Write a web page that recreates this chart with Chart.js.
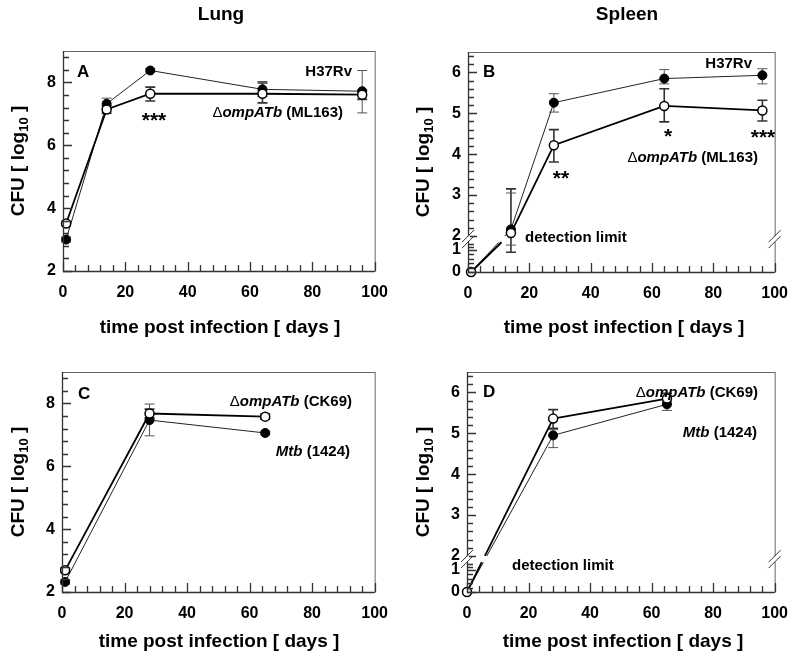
<!DOCTYPE html>
<html>
<head>
<meta charset="utf-8">
<script src="https://cdn.jsdelivr.net/npm/chart.js@4.4.1/dist/chart.umd.min.js"></script>
<style>
  html, body { margin: 0; padding: 0; background: #fff; }
  canvas { position: absolute; }
</style>
</head>
<body>
<canvas id="chartA" width="400" height="345" style="left:0;top:0"></canvas>
<canvas id="chartB" width="400" height="345" style="left:400px;top:0"></canvas>
<canvas id="chartC" width="400" height="331" style="left:0;top:330px"></canvas>
<canvas id="chartD" width="400" height="331" style="left:400px;top:330px"></canvas>
<script>
/* values (CFU, log10) */
let daysLung = [1, 14, 28, 64, 96]
let lungH37Rv = [3.0, 7.32, 8.38, 7.78, 7.72]
let lungH37RvLo = [2.92, 7.15, 8.33, 7.55, 7.03]
let lungH37RvHi = [3.08, 7.5, 8.43, 8.03, 8.38]
let lungML163 = [3.51, 7.14, 7.64, 7.64, 7.61]
let lungML163Lo = [3.45, 7.02, 7.41, 7.35, 7.46]
let lungML163Hi = [3.57, 7.26, 7.85, 7.98, 7.76]

let daysSpleen = [1, 14, 28, 64, 96]
let spleenH37Rv = [0, 2.16, 5.26, 5.85, 5.93]
let spleenH37RvLo = [0, 1.35, 5.03, 5.72, 5.72]
let spleenH37RvHi = [0, 3.05, 5.48, 6.07, 6.09]
let spleenML163 = [0, 2.07, 4.22, 5.18, 5.07]
let spleenML163Lo = [0, 0.9, 3.81, 4.79, 4.81]
let spleenML163Hi = [0, 3.15, 4.6, 5.6, 5.32]

let daysCK69Lung = [1, 28, 65]
let lungMtb1424 = [2.32, 7.47, 7.06]
let lungMtb1424Lo = [2.25, 6.97, 7.0]
let lungMtb1424Hi = [2.39, 7.98, 7.12]
let lungCK69 = [2.69, 7.68, 7.58]
let lungCK69Lo = [2.62, 7.54, 7.5]
let lungCK69Hi = [2.76, 7.82, 7.66]

let daysCK69Spleen = [0, 28, 65]
let spleenMtb1424 = [0, 4.95, 5.71]
let spleenMtb1424Lo = [0, 4.65, 5.56]
let spleenMtb1424Hi = [0, 5.09, 5.78]
let spleenCK69 = [0, 5.36, 5.85]
let spleenCK69Lo = [0, 5.12, 5.72]
let spleenCK69Hi = [0, 5.58, 5.98]

/* tick labels */
let xTickLabels = [0, 20, 40, 60, 80, 100]
let yTickLabelsLung = [2, 4, 6, 8]
let yTickLabelsSpleen = [0, 1, 2, 3, 4, 5, 6]

const FONT = '"Liberation Sans", Arial, Helvetica, sans-serif'

/* spleen axis is broken between 1 and 2 */
let breakKnots = [[0, 0], [1, 0.1], [2, 0.164], [6.5, 1]]
let breakBand = [1.55, 2.0]

function toDecimal(v) {
    for (let i = 1; i < breakKnots.length; i++) {
        let a = breakKnots[i - 1], b = breakKnots[i]
        if (v <= b[0] || i === breakKnots.length - 1) {
            return a[1] + (v - a[0]) / (b[0] - a[0]) * (b[1] - a[1])
        }
    }
}
function fromDecimal(d) {
    for (let i = 1; i < breakKnots.length; i++) {
        let a = breakKnots[i - 1], b = breakKnots[i]
        if (d <= b[1] || i === breakKnots.length - 1) {
            return a[0] + (d - a[1]) / (b[1] - a[1]) * (b[0] - a[0])
        }
    }
}

class BrokenScale extends Chart.LinearScale {
    getPixelForValue(value) {
        if (value === null || value === undefined || isNaN(value)) return NaN
        return this.getPixelForDecimal(toDecimal(value))
    }
    getValueForPixel(pixel) {
        return fromDecimal(this.getDecimalForPixel(pixel))
    }
}
BrokenScale.id = 'broken'
BrokenScale.defaults = Chart.LinearScale.defaults
Chart.register(BrokenScale)

// cut the line where it crosses the axis break
function breakDash(c) {
    let ys = c.chart.scales.y
    if (!ys || ys.type !== 'broken') return undefined
    let a = c.p0, b = c.p1
    let yLow = ys.getPixelForValue(breakBand[0]), yHigh = ys.getPixelForValue(breakBand[1])
    if (!(a.y > yLow && b.y < yHigh)) return undefined
    let len = Math.hypot(b.x - a.x, b.y - a.y)
    let t1 = (a.y - yLow) / (a.y - b.y), t2 = (a.y - yHigh) / (a.y - b.y)
    return [t1 * len, (t2 - t1) * len, len * 2]
}

function series(days, vals, lo, hi, filled) {
    return {
        data: days.map((d, i) => ({ x: d, y: vals[i] })),
        errLo: lo,
        errHi: hi,
        errColor: filled ? '#555' : '#333',
        errWidth: filled ? 1 : 1.6,
        borderColor: filled ? '#222' : '#000',
        borderWidth: filled ? 1 : 1.8,
        pointRadius: 4.5,
        pointHoverRadius: 4.5,
        pointBackgroundColor: filled ? '#000' : '#fff',
        pointBorderColor: '#000',
        pointBorderWidth: filled ? 1 : 1.5,
        tension: 0,
        clip: false,
        segment: { borderDash: breakDash }
    }
}

function txt(runs, x, y, align, size) {
    return { runs: runs, x: x, y: y, align: align || 'left', size: size || 15 }
}
const XTITLE = 'time post infection [ days ]'

/* panel layout (local canvas pixels) */
let panels = {
    chartA: {
        box: { left: 63, right: 377, top: 51, bottom: 271 },
        broken: false,
        xTitle: [220, 328], yTitle: [17, 161],
        texts: [
            txt([['Lung']], 221, 15, 'center', 19),
            txt([['A']], 77, 72, 'left', 17),
            txt([['H37Rv']], 352, 72, 'right'),
            txt([['\u0394', 'n'], ['ompATb', 'i'], [' (ML163)']], 343, 113, 'right'),
            txt([['***']], 154, 121, 'center', 21)
        ]
    },
    chartB: {
        box: { left: 68, right: 380, top: 52, bottom: 272 },
        broken: true,
        xTitle: [224, 328], yTitle: [22, 162],
        texts: [
            txt([['Spleen']], 227, 15, 'center', 19),
            txt([['B']], 83, 72, 'left', 17),
            txt([['H37Rv']], 352, 64, 'right'),
            txt([['\u0394', 'n'], ['ompATb', 'i'], [' (ML163)']], 358, 158, 'right'),
            txt([['*']], 268, 137, 'center', 21),
            txt([['***']], 363, 138, 'center', 21),
            txt([['**']], 161, 179, 'center', 21),
            txt([['detection limit']], 125, 238, 'left')
        ]
    },
    chartC: {
        box: { left: 62, right: 376, top: 42, bottom: 262 },
        broken: false,
        xTitle: [219, 312], yTitle: [17, 152],
        texts: [
            txt([['C']], 78, 64, 'left', 17),
            txt([['\u0394', 'n'], ['ompATb', 'i'], [' (CK69)']], 352, 72, 'right'),
            txt([['Mtb', 'i'], [' (1424)']], 350, 122, 'right')
        ]
    },
    chartD: {
        box: { left: 67, right: 379, top: 42, bottom: 262 },
        broken: true,
        xTitle: [223, 312], yTitle: [22, 152],
        texts: [
            txt([['D']], 83, 62, 'left', 17),
            txt([['\u0394', 'n'], ['ompATb', 'i'], [' (CK69)']], 358, 63, 'right'),
            txt([['Mtb', 'i'], [' (1424)']], 357, 103, 'right'),
            txt([['detection limit']], 112, 236, 'left')
        ]
    }
}

function runFont(style, size) {
    if (style === 'n') return size + 'px ' + FONT
    if (style === 'i') return 'italic bold ' + size + 'px ' + FONT
    return 'bold ' + size + 'px ' + FONT
}

function drawRuns(ctx, t) {
    let total = 0
    t.runs.forEach(r => { ctx.font = runFont(r[1], t.size); total += ctx.measureText(r[0]).width })
    let x = t.align === 'left' ? t.x : t.align === 'right' ? t.x - total : t.x - total / 2
    ctx.textBaseline = 'middle'
    ctx.textAlign = 'left'
    t.runs.forEach(r => {
        ctx.font = runFont(r[1], t.size)
        ctx.fillText(r[0], x, t.y)
        x += ctx.measureText(r[0]).width
    })
}

function minorTicks(from, to, step, majorEvery) {
    let out = []
    let n = Math.round((to - from) / step)
    for (let k = 0; k <= n; k++) out.push({ v: from + k * step, major: k % majorEvery === 0 })
    return out
}

let decor = {
    id: 'decor',
    beforeDatasetsDraw(chart) {
        // error bars go under the markers
        let ctx = chart.ctx, xs = chart.scales.x, ys = chart.scales.y
        chart.data.datasets.forEach(ds => {
            ctx.save()
            ctx.strokeStyle = ds.errColor
            ctx.lineWidth = ds.errWidth
            ds.data.forEach((pt, j) => {
                let lo = ds.errLo[j], hi = ds.errHi[j]
                if (hi - lo < 0.02) return
                let x = xs.getPixelForValue(pt.x)
                let y1 = ys.getPixelForValue(lo), y2 = ys.getPixelForValue(hi)
                ctx.beginPath()
                ctx.moveTo(x, y1); ctx.lineTo(x, y2)
                ctx.moveTo(x - 5, y1); ctx.lineTo(x + 5, y1)
                ctx.moveTo(x - 5, y2); ctx.lineTo(x + 5, y2)
                ctx.stroke()
            })
            ctx.restore()
        })
    },
    afterDraw(chart) {
        let p = panels[chart.canvas.id]
        let ctx = chart.ctx, a = chart.chartArea, xs = chart.scales.x, ys = chart.scales.y
        ctx.save()

        // frame
        ctx.strokeStyle = '#666'
        ctx.lineWidth = 1
        ctx.strokeRect(a.left + 0.5, a.top + 0.5, a.right - a.left, a.bottom - a.top)
        ctx.strokeStyle = '#333'
        ctx.lineWidth = 1.3
        ctx.beginPath()
        ctx.moveTo(a.left + 0.5, a.top); ctx.lineTo(a.left + 0.5, a.bottom + 0.5); ctx.lineTo(a.right, a.bottom + 0.5)
        ctx.stroke()

        // inward ticks
        ctx.beginPath()
        minorTicks(0, 100, 4, 5).forEach(t => {
            let x = Math.round(xs.getPixelForValue(t.v)) + 0.5
            ctx.moveTo(x, a.bottom); ctx.lineTo(x, a.bottom - (t.major ? 9 : 6))
        })
        let yt = p.broken
            ? minorTicks(0, 1.4, 0.2, 5).concat(minorTicks(2, 6.4, 0.2, 5))
            : minorTicks(2, 8.8, 0.4, 5)
        yt.forEach(t => {
            let y = Math.round(ys.getPixelForValue(t.v)) + 0.5
            ctx.moveTo(a.left, y); ctx.lineTo(a.left + (t.major ? 9 : 6), y)
        })
        ctx.stroke()

        // axis break marks
        if (p.broken) {
            let yb = ys.getPixelForValue((breakBand[0] + breakBand[1]) / 2)
            ;[a.left, a.right].forEach(x => {
                ctx.fillStyle = '#fff'
                ctx.fillRect(x - 2, yb - 3, 4, 6)
                ctx.strokeStyle = '#333'
                ctx.lineWidth = 1
                ctx.beginPath()
                ;[-3, 3].forEach(o => {
                    ctx.moveTo(x - 6, yb + o + 6); ctx.lineTo(x + 6, yb + o - 6)
                })
                ctx.stroke()
            })
        }

        // texts
        ctx.fillStyle = '#000'
        p.texts.forEach(t => drawRuns(ctx, t))
        drawRuns(ctx, txt([[XTITLE]], p.xTitle[0], p.xTitle[1], 'center', 19))

        // y title with subscript
        ctx.translate(p.yTitle[0], p.yTitle[1])
        ctx.rotate(-Math.PI / 2)
        let big = 'bold 19px ' + FONT, small = 'bold 13px ' + FONT
        ctx.font = big
        let w1 = ctx.measureText('CFU [ log').width, w3 = ctx.measureText(' ]').width
        ctx.font = small
        let w2 = ctx.measureText('10').width
        let x0 = -(w1 + w2 + w3) / 2
        ctx.textBaseline = 'alphabetic'
        ctx.textAlign = 'left'
        ctx.font = big
        ctx.fillText('CFU [ log', x0, 7)
        ctx.font = small
        ctx.fillText('10', x0 + w1, 11)
        ctx.font = big
        ctx.fillText(' ]', x0 + w1 + w2, 7)
        ctx.restore()
    }
}

function makeChart(id, openSet, filledSet, yType, yMin, yMax, yLabels) {
    let p = panels[id]
    let canvas = document.getElementById(id)
    let W = canvas.width, H = canvas.height
    let tickFont = { family: FONT, size: 16, weight: 'bold' }
    return new Chart(canvas.getContext('2d'), {
        type: 'line',
        data: { datasets: [openSet, filledSet] },
        options: {
            responsive: false,
            animation: false,
            events: [],
            layout: { padding: { left: 0, top: p.box.top, right: W - p.box.right, bottom: 0 } },
            plugins: { legend: { display: false }, tooltip: { enabled: false } },
            scales: {
                x: {
                    type: 'linear', min: 0, max: 100,
                    grid: { display: false, drawTicks: false },
                    border: { display: false },
                    ticks: { font: tickFont, color: '#000', padding: 12, autoSkip: false, maxRotation: 0, callback: v => String(v) },
                    afterBuildTicks: s => { s.ticks = xTickLabels.map(v => ({ value: v })) },
                    afterFit: s => { s.height = H - p.box.bottom }
                },
                y: {
                    type: yType, min: yMin, max: yMax,
                    grid: { display: false, drawTicks: false },
                    border: { display: false },
                    ticks: { font: tickFont, color: '#000', padding: 7, autoSkip: false, callback: v => String(v) },
                    afterBuildTicks: s => { s.ticks = yLabels.map(v => ({ value: v })) },
                    afterFit: s => { s.width = p.box.left }
                }
            }
        },
        plugins: [decor]
    })
}

makeChart('chartA',
    series(daysLung, lungML163, lungML163Lo, lungML163Hi, false),
    series(daysLung, lungH37Rv, lungH37RvLo, lungH37RvHi, true),
    'linear', 2, 9, yTickLabelsLung)
makeChart('chartB',
    series(daysSpleen, spleenML163, spleenML163Lo, spleenML163Hi, false),
    series(daysSpleen, spleenH37Rv, spleenH37RvLo, spleenH37RvHi, true),
    'broken', 0, 6.5, yTickLabelsSpleen)
makeChart('chartC',
    series(daysCK69Lung, lungCK69, lungCK69Lo, lungCK69Hi, false),
    series(daysCK69Lung, lungMtb1424, lungMtb1424Lo, lungMtb1424Hi, true),
    'linear', 2, 9, yTickLabelsLung)
makeChart('chartD',
    series(daysCK69Spleen, spleenCK69, spleenCK69Lo, spleenCK69Hi, false),
    series(daysCK69Spleen, spleenMtb1424, spleenMtb1424Lo, spleenMtb1424Hi, true),
    'broken', 0, 6.5, yTickLabelsSpleen)
</script>
</body>
</html>
